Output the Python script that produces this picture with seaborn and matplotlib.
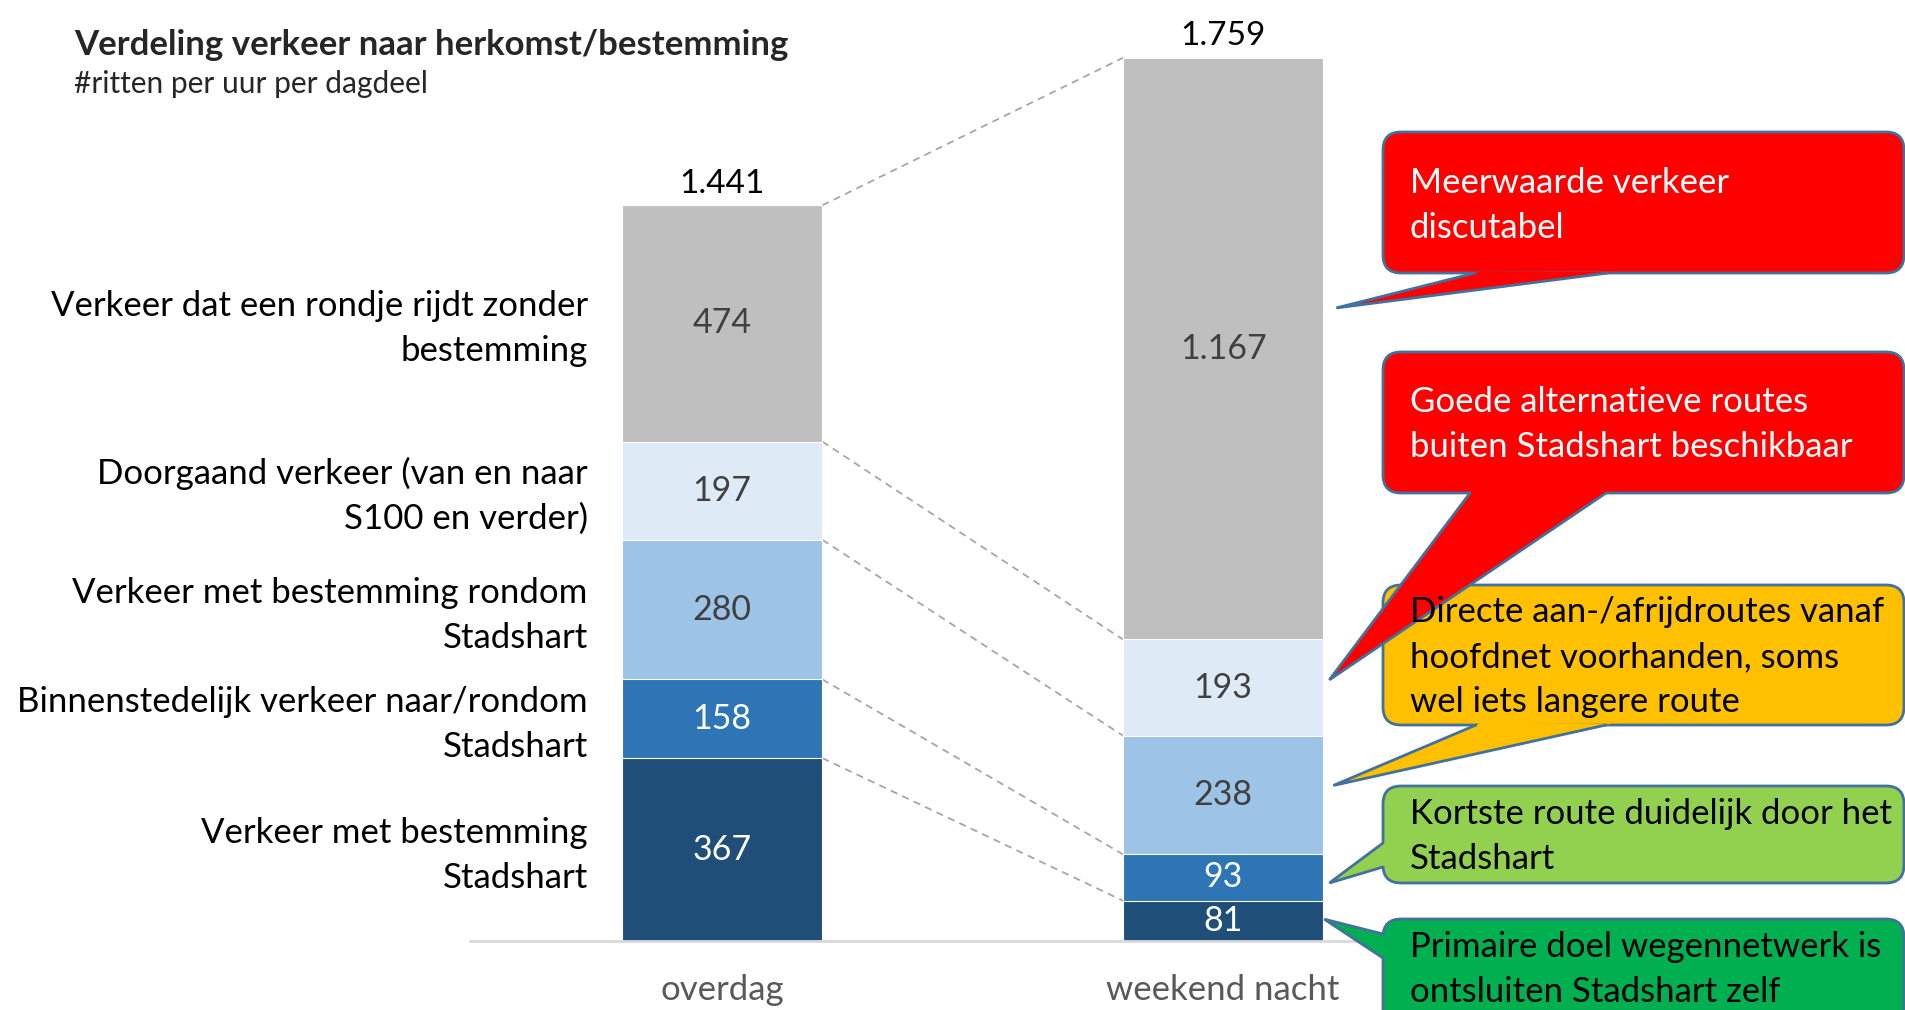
import numpy as np
import pandas as pd
import matplotlib
matplotlib.use("Agg")
import matplotlib.pyplot as plt
from matplotlib.patches import FancyBboxPatch, Polygon
import seaborn as sns

# --- data ---
dagdelen = ["overdag", "weekend nacht"]
segmenten = [
    ["Verkeer met bestemming", "Stadshart"],
    ["Binnenstedelijk verkeer naar/rondom", "Stadshart"],
    ["Verkeer met bestemming rondom", "Stadshart"],
    ["Doorgaand verkeer (van en naar", "S100 en verder)"],
    ["Verkeer dat een rondje rijdt zonder", "bestemming"],
]
overdag = [367, 158, 280, 197, 474]
weekend_nacht = [81, 93, 238, 193, 1167]
totalen = [1441, 1759]

kleuren = ["#1F4E79", "#2E75B6", "#9DC3E6", "#DEEBF7", "#BFBFBF"]
labelkleuren = ["white", "white", "#404040", "#404040", "#404040"]

# callouts: segment of weekend nacht they point at, position within it, text, colours
callout_segment = [4, 3, 2, 1, 0]
callout_frac = [0.57, 0.58, 0.58, 0.38, 0.54]
callout_tekst = [
    ["Meerwaarde verkeer", "discutabel"],
    ["Goede alternatieve routes", "buiten Stadshart beschikbaar"],
    ["Directe aan-/afrijdroutes vanaf", "hoofdnet voorhanden, soms", "wel iets langere route"],
    ["Kortste route duidelijk door het", "Stadshart"],
    ["Primaire doel wegennetwerk is", "ontsluiten Stadshart zelf"],
]
callout_kleur = ["#FF0000", "#FF0000", "#FFC000", "#92D050", "#00B050"]
callout_tekstkleur = ["white", "white", "black", "black", "black"]
# layout in pixels: top, bottom, first baseline offset, side of tail, tail base, tip gap
callout_layout = [
    (132, 273, 61, "bottom", (1475, 1608), 13),
    (352, 493, 60, "bottom", (1470, 1606), 6),
    (585, 725, 37, "bottom", (1476, 1606), 10),
    (786, 883, 38, "left", (843, 867), 6),
    (919, 1040, 38, "left", (934, 958), 1),
]

W, H = 1906, 1010


def fmt(v):
    return f"{v:,}".replace(",", ".")


sns.set_style("white")
plt.rcParams["font.family"] = ["Lato", "DejaVu Sans"]

fig = plt.figure(figsize=(W / 100, H / 100), dpi=100)
ax = fig.add_axes([470 / W, 69 / H, 920 / W, 941 / H])

cum_o = np.cumsum(overdag)
cum_w = np.cumsum(weekend_nacht)
df = pd.DataFrame({
    "dagdeel": dagdelen * 5,
    "laag": np.repeat(range(5), 2),
    "cum": np.column_stack([cum_o, cum_w]).ravel(),
})

# stacked bars: draw cumulative totals from the top layer down
for i in reversed(range(5)):
    sns.barplot(data=df[df["laag"] == i], x="dagdeel", y="cum", color=kleuren[i],
                saturation=1, width=0.4, errorbar=None, edgecolor="white",
                linewidth=0.8, ax=ax, zorder=2)

ax.set_xlim(-0.503, 1.333)
ax.set_ylim(0, 1888)

# segment values
for j, vals in enumerate([overdag, weekend_nacht]):
    bottoms = np.cumsum([0] + vals[:-1])
    for i, (b, v) in enumerate(zip(bottoms, vals)):
        ax.text(j, b + v / 2, fmt(v), ha="center", va="center",
                color=labelkleuren[i], fontsize=24.5, zorder=5)
    ax.annotate(fmt(totalen[j]), xy=(j, sum(vals)), xytext=(0, 9),
                textcoords="offset points", ha="center", va="baseline",
                fontsize=24, color="black")

# dashed connectors
for k in range(5):
    ax.plot([0.2, 0.8], [cum_o[k], cum_w[k]], ls=(0, (4, 3)), color="#A6A6A6",
            lw=1.3, zorder=1)

# segment names left of the first bar
bottoms_o = np.cumsum([0] + overdag[:-1])
for i, lines in enumerate(segmenten):
    c = bottoms_o[i] + overdag[i] / 2
    for n, line in enumerate(lines):
        ax.annotate(line, xy=(-0.2, c), xytext=(-34 * 0.72, (7 - 45 * n) * 0.72),
                    textcoords="offset points", ha="right", va="baseline",
                    fontsize=25, color="black")

ax.set_xlabel("")
ax.set_ylabel("")
ax.set_yticks([])
for s in ["top", "right", "left"]:
    ax.spines[s].set_visible(False)
ax.spines["bottom"].set_color("#D9D9D9")
ax.spines["bottom"].set_linewidth(2)
ax.tick_params(axis="x", length=0, pad=24, labelsize=25, labelcolor="#595959")

# overlay in pixel coordinates for the callouts
ov = fig.add_axes([0, 0, 1, 1], zorder=10)
ov.set_xlim(0, W)
ov.set_ylim(H, 0)
ov.axis("off")
ov.patch.set_alpha(0)

rand = "#41719C"
bx0, bx1 = 1383, 1904
for c in range(5):
    top, bottom, first, side, base, gap = callout_layout[c]
    seg = callout_segment[c]
    y_data = cum_w[seg] - weekend_nacht[seg] * (1 - callout_frac[c])
    dx, dy = ax.transData.transform((1.2, y_data))
    tip = np.array([dx + gap, H - dy])

    box = FancyBboxPatch((bx0, top), bx1 - bx0, bottom - top,
                         boxstyle="round,pad=0,rounding_size=18",
                         fc=callout_kleur[c], ec=rand, lw=2, zorder=2)
    ov.add_patch(box)

    if side == "bottom":
        b1, b2 = np.array([base[0], bottom]), np.array([base[1], bottom])
    else:
        b1, b2 = np.array([bx0, base[0]]), np.array([bx0, base[1]])
    inner = [b + (b - tip) / np.linalg.norm(b - tip) * 6 for b in (b1, b2)]
    ov.add_patch(Polygon([inner[0], tip, inner[1]], closed=True,
                         fc=callout_kleur[c], ec="none", zorder=3))
    ov.plot([b1[0], tip[0], b2[0]], [b1[1], tip[1], b2[1]], color=rand, lw=2,
            solid_joinstyle="miter", zorder=4)

    for n, line in enumerate(callout_tekst[c]):
        ov.text(bx0 + 27, top + first + 45 * n, line, ha="left", va="baseline",
                fontsize=25, color=callout_tekstkleur[c], zorder=5)

fig.text(74 / W, 1 - 55 / H, "Verdeling verkeer naar herkomst/bestemming",
         fontsize=25, fontweight="bold", va="baseline", ha="left")
fig.text(74 / W, 1 - 93 / H, "#ritten per uur per dagdeel",
         fontsize=21.5, va="baseline", ha="left")

fig.savefig("out.png", dpi=100)
